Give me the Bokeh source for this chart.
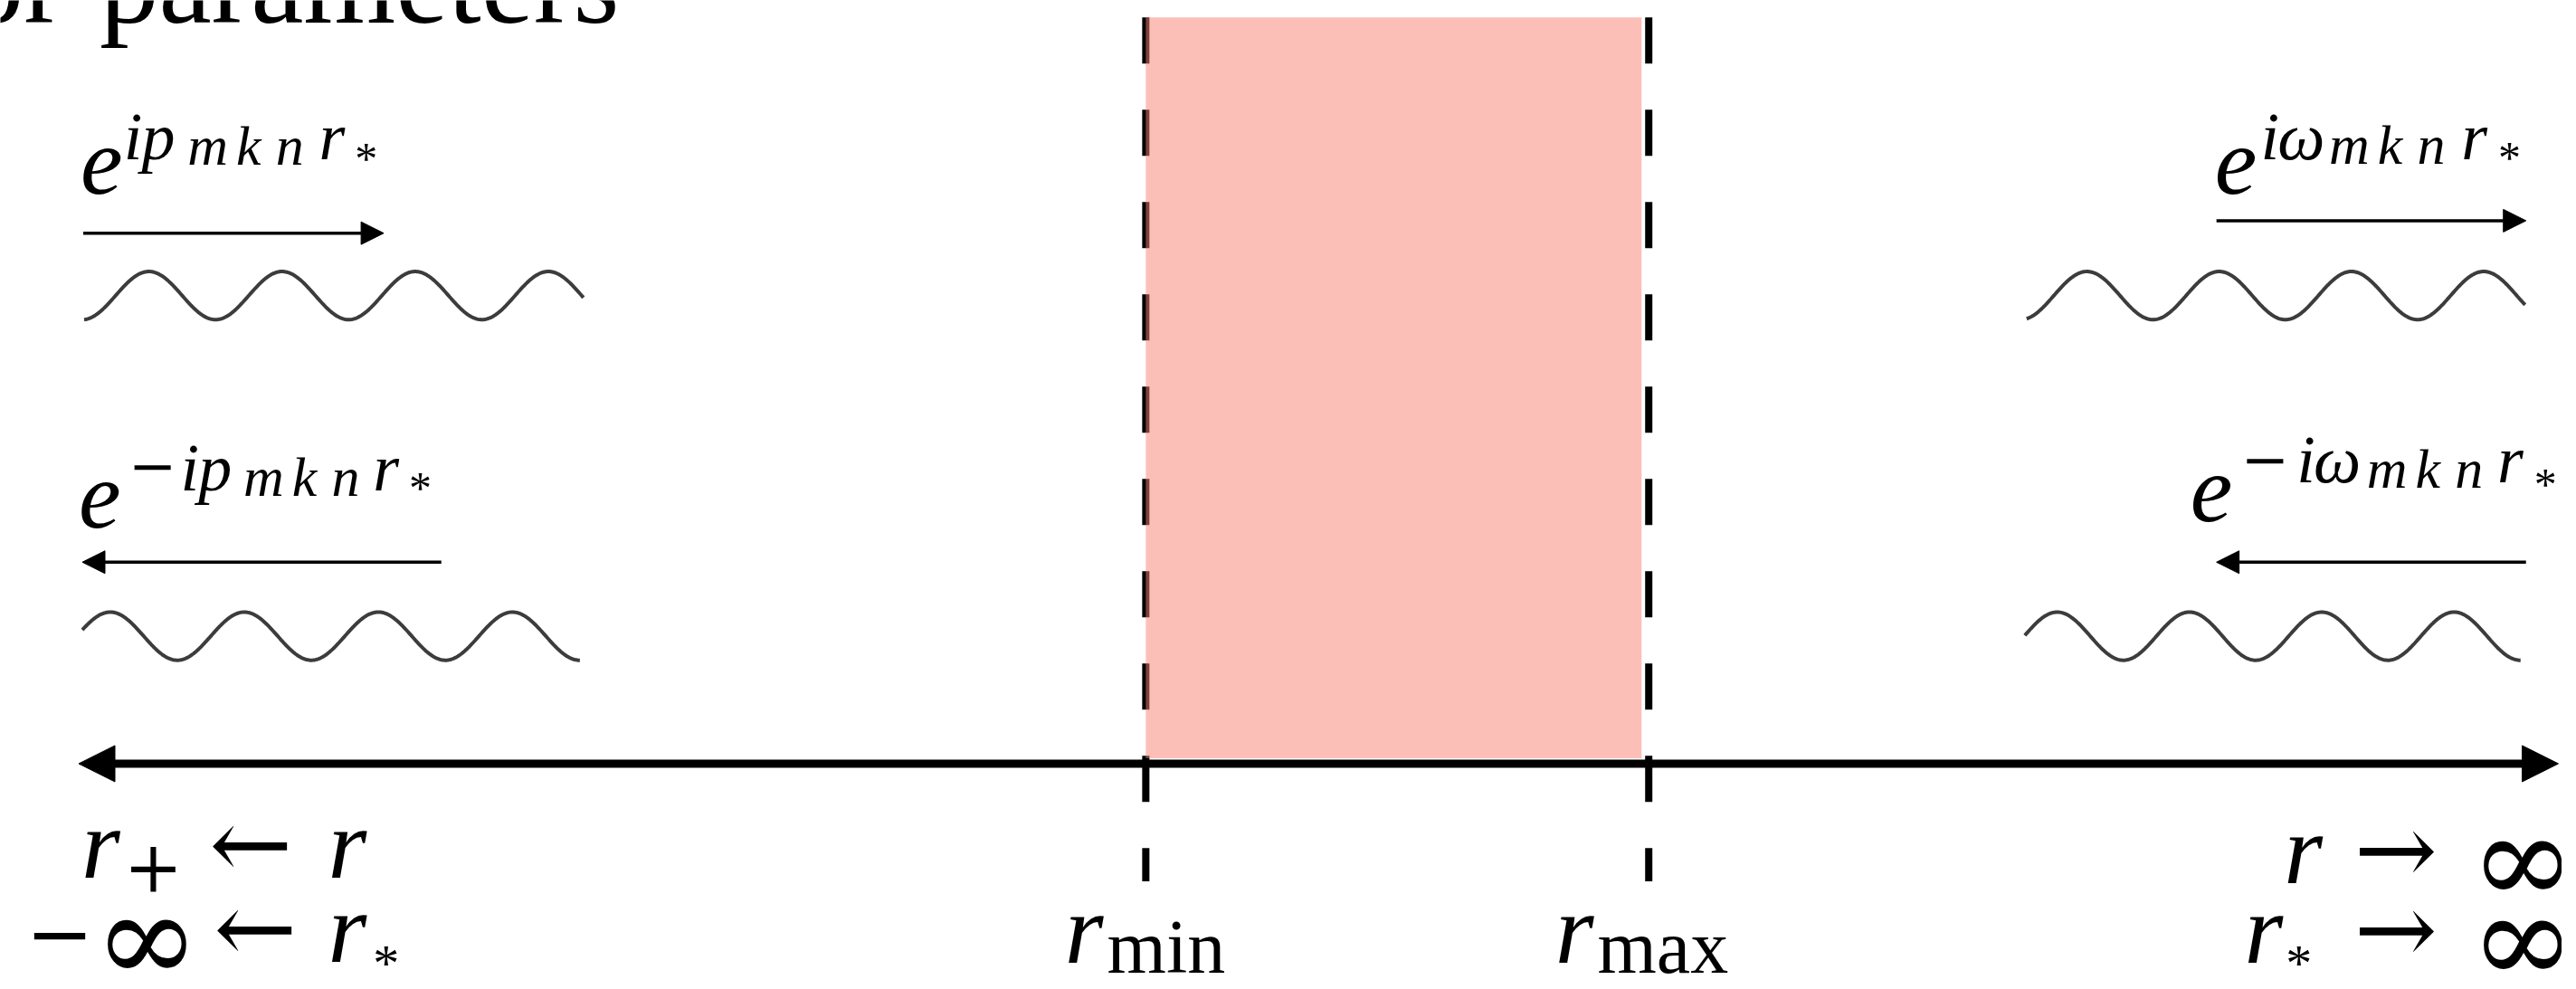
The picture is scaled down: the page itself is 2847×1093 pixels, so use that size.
import numpy as np
from bokeh.plotting import figure
from bokeh.models import Range1d, Arrow, NormalHead
from bokeh.core.properties import value
from bokeh.embed import file_html
from bokeh.resources import INLINE

# ---------------- diagram data (units = reference pixel frame) ----------------
landmark_names = ["r_min", "r_max"]
landmark_x = [1273, 1832]            # dashed boundaries of the potential region
band_x = [1273, 1824]                # shaded region extent
band_y = [19, 850]
dash_y = [19, 988]
axis_x = [87, 2843]                  # double-headed radial axis
axis_y = 856

# asymptotic travelling waves
mode_names = ["in_left", "out_left", "out_right", "in_right"]
arrow_x0 = [92, 490, 2463, 2807]
arrow_x1 = [426, 91, 2807, 2463]
arrow_y = [261, 630, 247, 630]

wave_x0 = [93, 91, 2252, 2250]
wave_x1 = [648, 644, 2806, 2801]
wave_yc = [331, 713, 331, 713]
wave_peak = [165, 122, 2319, 2286]
wave_period = [148, 149, 147, 147]
wave_amp = 27

# ---------------- figure ----------------
W, H = 2831, 1077
RW, RH = 2847, 1093
p = figure(width=W, height=H, x_range=Range1d(0, RW), y_range=Range1d(RH, 0),
           output_backend="svg", toolbar_location=None, x_axis_type=None, y_axis_type=None,
           min_border=0, title=None)
p.outline_line_color = None
p.background_fill_color = "white"
p.border_fill_color = "white"

# dashed boundaries
p.segment(x0=landmark_x, y0=[dash_y[0]] * 2, x1=landmark_x, y1=[dash_y[1]] * 2,
          line_color="black", line_width=8, line_dash="51 51")

# shaded region
p.quad(left=[band_x[0]], right=[band_x[1]], top=[band_y[0]], bottom=[band_y[1]],
       fill_color="salmon", fill_alpha=0.5, line_color=None)

# waves
xs_all, ys_all = [], []
for x0, x1, yc, pk, per in zip(wave_x0, wave_x1, wave_yc, wave_peak, wave_period):
    xs = np.linspace(x0, x1, 400)
    ys = yc - wave_amp * np.cos(2 * np.pi * (xs - pk) / per)
    xs_all.append(xs)
    ys_all.append(ys)
p.multi_line(xs=xs_all, ys=ys_all, line_color="#3c3c3c", line_width=4)

# small direction arrows
for xa, xb, ya in zip(arrow_x0, arrow_x1, arrow_y):
    p.add_layout(Arrow(x_start=xa, y_start=ya, x_end=xb, y_end=ya, line_width=3.5, line_color="black",
                       end=NormalHead(size=25, fill_color="black", line_color="black", line_width=1)))

# main axis
p.add_layout(Arrow(x_start=axis_x[0], y_start=axis_y, x_end=axis_x[1], y_end=axis_y,
                   line_width=9, line_color="black",
                   start=NormalHead(size=40, fill_color="black", line_color="black", line_width=1),
                   end=NormalHead(size=40, fill_color="black", line_color="black", line_width=1)))

# ---------------- text ----------------
LS, DV = "Liberation Serif", "DejaVu Serif"
I, N = "italic", "normal"
K = 0.18   # renderer offset of the given y above the alphabetic baseline (fraction of em)
SS = 62    # second-level subscript size

pieces = [
    # cropped heading
    ("or", -40, 3, 131, N, LS), ("parameters", 110, 3, 131, N, LS),
    # e^{i p_{mkn} r_*}
    ("e", 89, 200, 105, I, LS), ("i", 137, 166, 74, I, LS), ("p", 157, 166, 74, I, LS),
    ("m", 208, 174, SS, I, LS), ("k", 262, 174, SS, I, LS), ("n", 306, 174, SS, I, LS),
    ("r", 354, 166, 74, I, LS), ("*", 394, 186, 50, N, LS),
    # e^{-i p_{mkn} r_*}
    ("e", 87, 575, 105, I, LS), ("\u2212", 142, 532, 64, N, DV), ("i", 200, 537, 74, I, LS),
    ("p", 220, 537, 74, I, LS),
    ("m", 270, 545, SS, I, LS), ("k", 324, 545, SS, I, LS), ("n", 368, 545, SS, I, LS),
    ("r", 414, 537, 74, I, LS), ("*", 454, 555, 50, N, LS),
    # e^{i omega_{mkn} r_*}
    ("e", 2461, 200, 105, I, LS), ("i", 2512, 166, 74, I, LS), ("\u03c9", 2531, 166, 74, I, LS),
    ("m", 2588, 173, SS, I, LS), ("k", 2642, 173, SS, I, LS), ("n", 2686, 173, SS, I, LS),
    ("r", 2735, 166, 74, I, LS), ("*", 2776, 185, 50, N, LS),
    # e^{-i omega_{mkn} r_*}
    ("e", 2434, 567, 105, I, LS), ("\u2212", 2490, 525, 64, N, DV), ("i", 2552, 528, 74, I, LS),
    ("\u03c9", 2571, 528, 74, I, LS),
    ("m", 2630, 536, SS, I, LS), ("k", 2684, 536, SS, I, LS), ("n", 2728, 536, SS, I, LS),
    ("r", 2775, 528, 74, I, LS), ("*", 2816, 551, 50, N, LS),
    # r_+ <- r ; -inf <- r_*
    ("r", 90, 966, 110, I, LS), ("+", 137, 985, 78, N, DV), ("\u2190", 232, 966, 110, N, DV),
    ("r", 364, 966, 110, I, LS),
    ("\u2212", 28, 1061, 90, N, DV), ("\u221e", 104, 1077, 140, N, DV), ("\u2190", 237, 1061, 110, N, DV),
    ("r", 364, 1061, 110, I, LS), ("*", 414, 1090, 58, N, LS),
    # r -> inf ; r_* -> inf
    ("r", 2538, 972, 110, I, LS), ("\u2192", 2616, 972, 110, N, DV), ("\u221e", 2745, 988, 140, N, DV),
    ("r", 2494, 1062, 110, I, LS), ("*", 2540, 1090, 58, N, LS), ("\u2192", 2616, 1062, 110, N, DV),
    ("\u221e", 2745, 1078, 140, N, DV),
    # r_min, r_max
    ("r", 1183, 1062, 110, I, LS), ("min", 1230, 1077, 84, N, LS),
    ("r", 1728, 1062, 110, I, LS), ("max", 1775, 1077, 84, N, LS),
]
for t, x, base, size, style, font in pieces:
    p.text(x=[x], y=[base - K * size], text=[t], text_font=value(font), text_font_size=f"{size}px",
           text_font_style=style, text_baseline="alphabetic", text_align="left", text_color="black")

open("out.html", "w").write(file_html(p, INLINE))
